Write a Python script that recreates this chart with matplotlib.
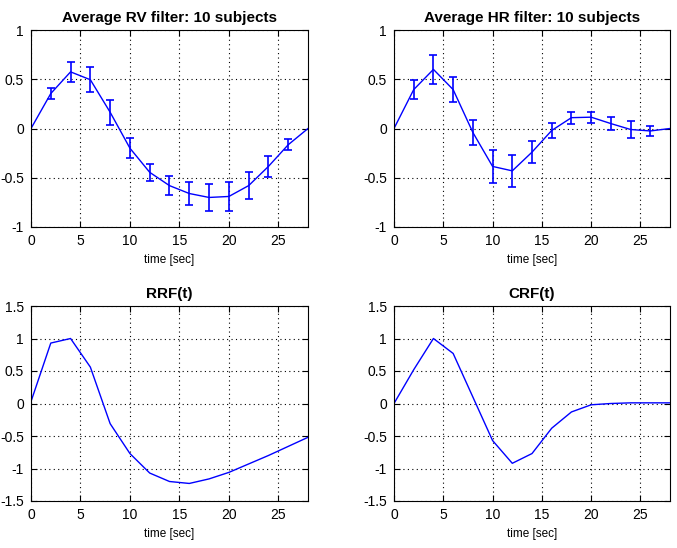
import numpy as np
import matplotlib
matplotlib.use('Agg')
import matplotlib.pyplot as plt

plt.rcParams['font.family'] = ['Liberation Sans', 'DejaVu Sans']

# time axis (sec)
t = [0, 2, 4, 6, 8, 10, 12, 14, 16, 18, 20, 22, 24, 26, 28]

# average RV filter and its error bars
rv_mean = [0, 0.355, 0.575, 0.495, 0.165, -0.2, -0.445, -0.58, -0.66, -0.70, -0.69, -0.58, -0.385, -0.165, 0]
rv_err = [0, 0.055, 0.105, 0.125, 0.125, 0.10, 0.085, 0.10, 0.12, 0.14, 0.15, 0.14, 0.11, 0.055, 0]

# average HR filter and its error bars
hr_mean = [0, 0.395, 0.60, 0.395, -0.04, -0.385, -0.43, -0.24, -0.02, 0.11, 0.115, 0.05, -0.01, -0.025, 0]
hr_err = [0, 0.095, 0.15, 0.13, 0.13, 0.165, 0.165, 0.115, 0.08, 0.06, 0.055, 0.07, 0.085, 0.05, 0]

# response functions
rrf = [0.03, 0.93, 1.0, 0.56, -0.31, -0.77, -1.07, -1.20, -1.23, -1.16, -1.06, -0.93, -0.80, -0.66, -0.52]
crf = [0, 0.52, 1.0, 0.77, 0.10, -0.57, -0.92, -0.77, -0.38, -0.13, -0.02, 0.0, 0.01, 0.01, 0.01]

blue = '#0000ff'

fig = plt.figure(figsize=(6.77, 5.48), dpi=100)
W, H = 677.0, 548.0

def make_ax(left, top, right, bottom):
    return fig.add_axes([left / W, 1 - bottom / H, (right - left) / W, (bottom - top) / H])

ax1 = make_ax(31, 30, 308, 227)
ax2 = make_ax(394, 30, 670, 227)
ax3 = make_ax(31, 306, 308, 501)
ax4 = make_ax(394, 306, 670, 501)

# error bars only at interior samples
ax1.plot(t, rv_mean, color=blue, lw=1)
ax1.errorbar(t[1:-1], rv_mean[1:-1], yerr=rv_err[1:-1], fmt='none', ecolor=blue,
             elinewidth=1.2, capsize=3, capthick=1.2)
ax1.set_title('Average RV filter: 10 subjects', fontweight='bold', fontsize=11)

ax2.plot(t, hr_mean, color=blue, lw=1)
ax2.errorbar(t[1:-1], hr_mean[1:-1], yerr=hr_err[1:-1], fmt='none', ecolor=blue,
             elinewidth=1.2, capsize=3, capthick=1.2)
ax2.set_title('Average HR filter: 10 subjects', fontweight='bold', fontsize=11)

ax3.plot(t, rrf, color=blue, lw=1)
ax3.set_title('RRF(t)', fontweight='bold', fontsize=11)

ax4.plot(t, crf, color=blue, lw=1)
ax4.set_title('CRF(t)', fontweight='bold', fontsize=11)

for ax in [ax1, ax2]:
    ax.set_ylim(-1, 1)
    ax.set_yticks([-1, -0.5, 0, 0.5, 1])
    ax.set_yticklabels(['-1', '-0.5', '0', '0.5', '1'])
for ax in [ax3, ax4]:
    ax.set_ylim(-1.5, 1.5)
    ax.set_yticks([-1.5, -1, -0.5, 0, 0.5, 1, 1.5])
    ax.set_yticklabels(['-1.5', '-1', '-0.5', '0', '0.5', '1', '1.5'])

for ax in [ax1, ax2, ax3, ax4]:
    ax.set_xlim(0, 28)
    ax.set_xticks([0, 5, 10, 15, 20, 25])
    ax.set_xlabel('time [sec]', fontsize=8.5, labelpad=4)
    ax.grid(True, color='black', linestyle=(0, (1, 3)), linewidth=0.8)
    ax.tick_params(direction='in', length=4, labelsize=10, top=True, right=True, pad=5)
    ax.title.set_y(1.02)
    for s in ax.spines.values():
        s.set_linewidth(0.8)

fig.savefig('out.png', dpi=100)
